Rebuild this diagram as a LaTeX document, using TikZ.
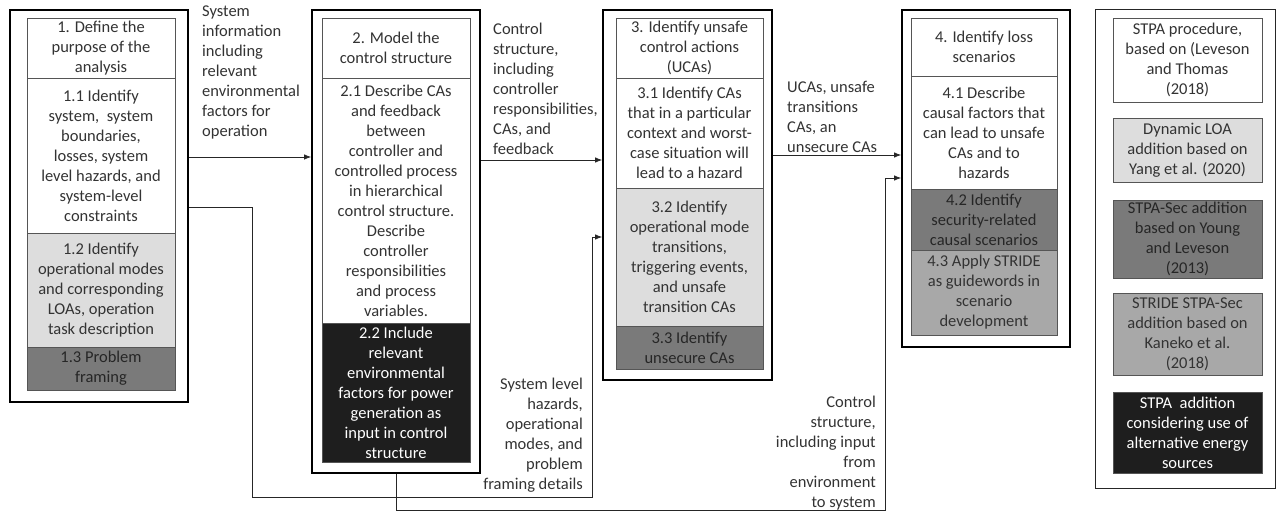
\documentclass[tikz,border=0pt]{standalone}
\usepackage{fontspec}
\setmainfont{Carlito}
\usetikzlibrary{arrows.meta}
\definecolor{lightfill}{HTML}{DDDDDD}
\definecolor{darkfill}{HTML}{7A7A7A}
\definecolor{midfill}{HTML}{A8A8A8}
\definecolor{blackfill}{HTML}{1E1E1E}
\definecolor{ink}{HTML}{333333}
\definecolor{cellline}{HTML}{555555}
\begin{document}
\begin{tikzpicture}[x=1pt,y=-1pt,
  every node/.style={font=\fontsize{16.5}{20}\selectfont},
  sz/.style 2 args={minimum width=#1pt, minimum height=#2pt},
  cell/.style={draw=cellline, line width=0.8pt, inner sep=1pt, align=center, text=ink},
  white cell/.style={cell, fill=white},
  light cell/.style={cell, fill=lightfill},
  dark cell/.style={cell, fill=darkfill, text=black!85},
  mid cell/.style={cell, fill=midfill, text=black!80},
  black cell/.style={cell, fill=blackfill, text=white},
  frame/.style={draw=black, line width=1.8pt, fill=white, inner sep=0pt},
  legend frame/.style={draw=black!85, line width=1pt, fill=white, inner sep=0pt},
  lbl/.style={inner sep=0pt, text=ink},
  arr/.style={draw=black!85, line width=0.8pt, -{Latex[length=7pt,width=5.5pt]}},
]
\useasboundingbox (0,0) rectangle (1277,513);

% outer frames of the four steps and the legend
\node[frame, sz={178}{392}] (f1) at (99,206) {};
\node[frame, sz={168}{463}] (f2) at (396,241.5) {};
\node[frame, sz={169}{370}] (f3) at (687.5,195) {};
\node[frame, sz={168}{337}] (f4) at (986,178.5) {};
\node[legend frame, sz={180}{478}] (f5) at (1185,249) {};

% step 1
\node[white cell, sz={148}{60}] (t1) at (101,48) {1. Define the\\purpose of the\\analysis};
\node[white cell, sz={148}{155}] (t11) at (101,155.5) {1.1 Identify\\system,\ \ system\\boundaries,\\losses, system\\level hazards, and\\system-level\\constraints};
\node[light cell, sz={148}{114}] (t12) at (101,290) {1.2 Identify\\operational modes\\and corresponding\\LOAs, operation\\task description};
\node[dark cell, sz={148}{43}] (t13) at (101,368.5) {1.3 Problem\\framing};

% step 2
\node[white cell, sz={148}{60}] (t2) at (396,48) {2. Model the\\control structure};
\node[white cell, sz={148}{245}] (t21) at (396,200.5) {2.1 Describe CAs\\and feedback\\between\\controller and\\controlled process\\in hierarchical\\control structure.\\Describe\\controller\\responsibilities\\and process\\variables.};
\node[black cell, sz={148}{139}] (t22) at (396,392.5) {2.2 Include\\relevant\\environmental\\factors for power\\generation as\\input in control\\structure};

% step 3
\node[white cell, sz={147}{60}] (t3) at (689.5,48) {3. Identify unsafe\\control actions\\(UCAs)};
\node[white cell, sz={147}{110}] (t31) at (689.5,133) {3.1 Identify CAs\\that in a particular\\context and worst-\\case situation will\\lead to a hazard};
\node[light cell, sz={147}{138}] (t32) at (689.5,257) {3.2 Identify\\operational mode\\transitions,\\triggering events,\\and unsafe\\transition CAs};
\node[dark cell, sz={147}{43}] (t33) at (689.5,347.5) {3.3 Identify\\unsecure CAs};

% step 4
\node[white cell, sz={146}{58}] (t4) at (984,47) {4. Identify loss\\scenarios};
\node[white cell, sz={146}{113}] (t41) at (984,132.5) {4.1 Describe\\causal factors that\\can lead to unsafe\\CAs and to\\hazards};
\node[dark cell, sz={146}{61}] (t42) at (984,219.5) {4.2 Identify\\security-related\\causal scenarios};
\node[mid cell, sz={146}{85}] (t43) at (984,292.5) {4.3 Apply STRIDE\\as guidewords in\\scenario\\development};

% legend
\node[white cell, sz={149}{84}] (l1) at (1187.5,60) {STPA procedure,\\based on (Leveson\\and Thomas\\(2018)};
\node[light cell, sz={149}{64}] (l2) at (1187.5,150) {Dynamic LOA\\addition based on\\Yang et al. (2020)};
\node[dark cell, sz={149}{78}] (l3) at (1187.5,239) {STPA-Sec addition\\based on Young\\and Leveson\\(2013)};
\node[mid cell, sz={149}{82}] (l4) at (1187.5,334) {STRIDE STPA-Sec\\addition based on\\Kaneko et al.\\(2018)};
\node[black cell, sz={149}{81}] (l5) at (1187.5,432.5) {STPA\ \ addition\\considering use of\\alternative energy\\sources};

% connector labels
\node[lbl, anchor=north west, align=left] (n1) at (202,6) {System\\information\\including\\relevant\\environmental\\factors for\\operation};
\node[lbl, anchor=north west, align=left] (n2) at (493,23) {Control\\structure,\\including\\controller\\responsibilities,\\CAs, and\\feedback};
\node[lbl, anchor=north west, align=left] (n3) at (787,81) {UCAs, unsafe\\transitions\\CAs, an\\unsecure CAs};
\node[lbl, anchor=north east, align=right] (n4) at (583,378) {System level\\hazards,\\operational\\modes, and\\problem\\framing details};
\node[lbl, anchor=north east, align=right] (n5) at (876,396) {Control\\structure,\\including input\\from\\environment\\to system};

% connectors
\coordinate (ya) at (0,157);
\coordinate (yb) at (0,207);
\coordinate (yc) at (0,160);
\coordinate (yd) at (0,155);
\coordinate (ye) at (0,178);
\coordinate (b1) at (252,497);
\coordinate (b2) at (592,237);
\coordinate (e1) at (885,510);

\draw[arr] (f1.east |- ya) -- (f2.west |- ya);
\draw[arr] (f1.east |- yb) -| (b1) -- (b1 -| b2) -- (b2) -- (f3.west |- b2);
\draw[arr] (f2.east |- yc) -- (f3.west |- yc);
\draw[arr] (f3.east |- yd) -- (f4.west |- yd);
\draw[arr] (f2.south) |- (e1) |- (f4.west |- ye);
\end{tikzpicture}
\end{document}
